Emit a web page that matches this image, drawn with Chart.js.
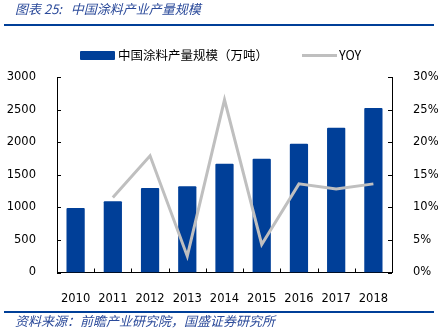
<!DOCTYPE html>
<html>
<head>
<meta charset="utf-8">
<script src="https://cdn.jsdelivr.net/npm/chart.js@4"></script>
<style>
  body { margin: 0; background: #fff; }
  #wrap { position: relative; width: 441px; height: 330px; overflow: hidden; }
  #c { position: absolute; left: 0; top: 0; }
  .rule { position: absolute; left: 4px; width: 430px; height: 2px; background: #003F98; }
  .cap { position: absolute; left: 15px; font: italic 13px "Noto Sans CJK SC"; color: #2B4A9A; white-space: nowrap; }
  .lg { position: absolute; font: 12.5px "Noto Sans CJK SC"; color: #000; line-height: 16px; white-space: nowrap; }
</style>
</head>
<body>
<div id="wrap">
  <canvas id="c" width="441" height="330"></canvas>
  <div class="cap" style="top:0; line-height:18px;">图表 25:&nbsp;&nbsp;&nbsp;中国涂料产业产量规模</div>
  <div class="rule" style="top:24px;"></div>
  <div id="legend"></div>
  <div class="rule" style="top:311px;"></div>
  <div class="cap" style="top:313px; line-height:16px;">资料来源：前瞻产业研究院，国盛证券研究所</div>
</div>
<script>
var years = ['2010', '2011', '2012', '2013', '2014', '2015', '2016', '2017', '2018'];
var output = [988, 1092, 1295, 1323, 1668, 1745, 1975, 2221, 2523];
var yoy = [null, 11.5, 17.9, 2.5, 26.5, 4.3, 13.6, 12.8, 13.6];
var leftTicks = [0, 500, 1000, 1500, 2000, 2500, 3000];
var rightTicks = [0, 5, 10, 15, 20, 25, 30];
var names = ['中国涂料产量规模（万吨）', 'YOY'];

var blue = '#003F98';
var grey = '#BFBFBF';

// legend
var lg = document.getElementById('legend');
lg.innerHTML =
  '<div style="position:absolute;left:80px;top:51px;width:35px;height:9px;background:' + blue + ';border-radius:1px"></div>' +
  '<div class="lg" style="left:118px;top:47px">' + names[0] + '</div>' +
  '<div style="position:absolute;left:302px;top:54px;width:35px;height:3px;background:' + grey + '"></div>' +
  '<div class="lg" style="left:339px;top:47px">' + names[1] + '</div>';

// inward tick marks
var innerTicks = {
  id: 'innerTicks',
  afterDraw: function(chart) {
    var ctx = chart.ctx;
    var a = chart.chartArea;
    var y = chart.scales.y, y1 = chart.scales.y1, x = chart.scales.x;
    ctx.save();
    ctx.strokeStyle = '#000';
    ctx.lineWidth = 1;
    ctx.beginPath();
    leftTicks.forEach(function(v) {
      var py = Math.round(y.getPixelForValue(v)) + 0.5;
      ctx.moveTo(a.left, py); ctx.lineTo(a.left + 4, py);
    });
    rightTicks.forEach(function(v) {
      var py = Math.round(y1.getPixelForValue(v)) + 0.5;
      ctx.moveTo(a.right - 4, py); ctx.lineTo(a.right, py);
    });
    for (var i = 0; i < years.length - 1; i++) {
      var px = Math.round((x.getPixelForValue(i) + x.getPixelForValue(i + 1)) / 2) + 0.5;
      ctx.moveTo(px, a.bottom); ctx.lineTo(px, a.bottom - 4);
    }
    ctx.stroke();
    ctx.restore();
  }
};

var tickFont = { family: 'DejaVu Sans', size: 11.5 };

new Chart(document.getElementById('c'), {
  type: 'bar',
  data: {
    labels: years,
    datasets: [
      {
        type: 'line',
        label: names[1],
        data: yoy,
        yAxisID: 'y1',
        borderColor: grey,
        backgroundColor: grey,
        borderWidth: 3,
        pointRadius: 0,
        tension: 0,
        order: 1
      },
      {
        label: names[0],
        data: output,
        yAxisID: 'y',
        backgroundColor: blue,
        barPercentage: 0.49,
        categoryPercentage: 1,
        borderRadius: 1,
        order: 2
      }
    ]
  },
  options: {
    responsive: false,
    animation: false,
    layout: { padding: { top: 77, left: 0, right: 0, bottom: 27.5 } },
    plugins: { legend: { display: false }, tooltip: { enabled: false } },
    scales: {
      x: {
        offset: true,
        grid: { display: false },
        border: { display: true, color: '#000', width: 1 },
        ticks: { color: '#000', font: tickFont, padding: 12, maxRotation: 0 },
        afterFit: function(s) { s.height = 30; }
      },
      y: {
        position: 'left',
        min: 0, max: 3000,
        grid: { display: false },
        border: { display: true, color: '#000', width: 1 },
        ticks: { stepSize: 500, color: '#000', font: tickFont, padding: 13,
          callback: function(v) { return String(v); } },
        afterFit: function(s) { s.width = 57; }
      },
      y1: {
        position: 'right',
        min: 0, max: 30,
        grid: { display: false },
        border: { display: true, color: '#000', width: 1 },
        ticks: { stepSize: 5, color: '#000', font: tickFont, padding: 13,
          callback: function(v) { return v + '%'; } },
        afterFit: function(s) { s.width = 49; }
      }
    }
  },
  plugins: [innerTicks]
});
</script>
</body>
</html>
